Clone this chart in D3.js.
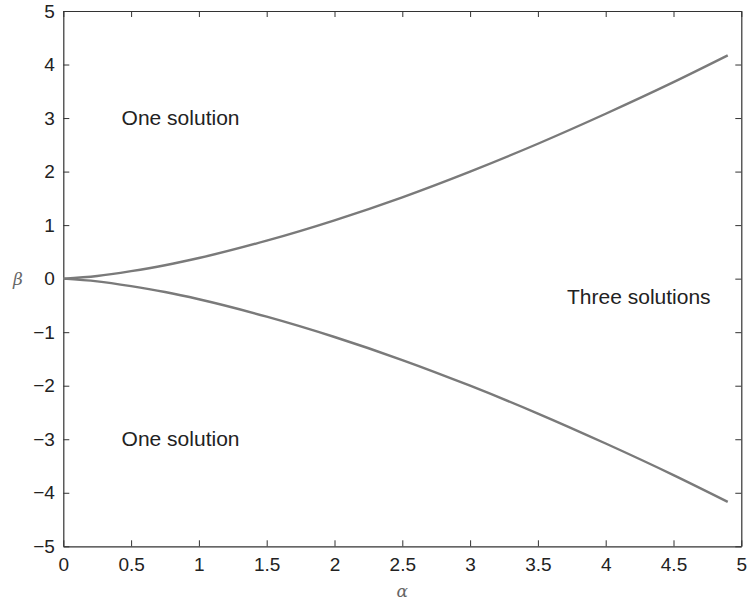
<!DOCTYPE html>
<html>
<head>
<meta charset="utf-8">
<script src="https://cdn.jsdelivr.net/npm/d3@7"></script>
<style>
  body { margin: 0; background: #fff; }
  text { font-family: "Liberation Sans", Arial, sans-serif; }
</style>
</head>
<body>
<svg id="chart" width="750" height="601"></svg>
<script>
// values (upper branch; lower branch is its mirror)
const alphaVals = [0, 0.25, 0.5, 0.75, 1, 1.5, 2, 2.5, 3, 3.5, 4, 4.5, 4.9]
const betaUpper = [0, 0.05, 0.14, 0.25, 0.385, 0.71, 1.09, 1.52, 2.0, 2.52, 3.08, 3.67, 4.17]
const betaLower = [0, -0.05, -0.14, -0.25, -0.385, -0.71, -1.09, -1.52, -2.0, -2.52, -3.08, -3.67, -4.17]

const xTicks = [0, 0.5, 1, 1.5, 2, 2.5, 3, 3.5, 4, 4.5, 5]
const yTicks = [-5, -4, -3, -2, -1, 0, 1, 2, 3, 4, 5]

const regionLabels = [
  { text: "One solution", a: 0.43, b: 2.87 },
  { text: "One solution", a: 0.43, b: -3.12 },
  { text: "Three solutions", a: 3.715, b: -0.48 }
]

const margin = { left: 63.3, top: 11, right: 8.7, bottom: 54.7 }
const width = 750
const height = 601

const svg = d3.select("#chart")

const x = d3.scaleLinear().domain([0, 5]).range([margin.left, width - margin.right])
const y = d3.scaleLinear().domain([-5, 5]).range([height - margin.bottom, margin.top])

const fmt = d => (d < 0 ? "\u2212" + Math.abs(d) : String(d))
const axisColor = "#333"

// bottom axis
const gx = svg.append("g")
  .attr("transform", `translate(0,${y(-5)})`)
  .call(d3.axisBottom(x).tickValues(xTicks).tickFormat(fmt).tickSizeInner(-6).tickSizeOuter(0).tickPadding(11.5))

// top axis (ticks only)
const gxt = svg.append("g")
  .attr("transform", `translate(0,${y(5)})`)
  .call(d3.axisTop(x).tickValues(xTicks).tickFormat("").tickSizeInner(-6).tickSizeOuter(0))

// left axis
const gy = svg.append("g")
  .attr("transform", `translate(${x(0)},0)`)
  .call(d3.axisLeft(y).tickValues(yTicks).tickFormat(fmt).tickSizeInner(-6).tickSizeOuter(0).tickPadding(8.5))

// right axis (ticks only)
const gyr = svg.append("g")
  .attr("transform", `translate(${x(5)},0)`)
  .call(d3.axisRight(y).tickValues(yTicks).tickFormat("").tickSizeInner(-6).tickSizeOuter(0))

for (const g of [gx, gxt, gy, gyr]) {
  g.select(".domain").attr("stroke", axisColor).attr("stroke-width", 1.2)
  g.selectAll(".tick line").attr("stroke", axisColor).attr("stroke-width", 1)
  g.selectAll(".tick text")
    .attr("fill", "#222")
    .style("font-size", "19px")
    .style("font-family", "'Liberation Sans', Arial, sans-serif")
}

// curves
const line = d3.line()
  .x(d => x(d[0]))
  .y(d => y(d[1]))
  .curve(d3.curveMonotoneX)

const plot = svg.append("g")
for (const branch of [betaUpper, betaLower]) {
  plot.append("path")
    .datum(alphaVals.map((a, i) => [a, branch[i]]))
    .attr("d", line)
    .attr("fill", "none")
    .attr("stroke", "#7a7a7a")
    .attr("stroke-width", 2.4)
}

// region labels
svg.selectAll("text.region")
  .data(regionLabels)
  .join("text")
  .attr("class", "region")
  .attr("x", d => x(d.a))
  .attr("y", d => y(d.b))
  .attr("fill", "#222")
  .style("font-size", "21px")
  .text(d => d.text)

// axis labels
svg.append("text")
  .attr("x", x(2.5))
  .attr("y", 597)
  .attr("text-anchor", "middle")
  .attr("fill", "#666")
  .style("font-family", "'DejaVu Serif', 'Liberation Serif', serif")
  .style("font-style", "italic")
  .style("font-size", "17px")
  .text("\u03b1")

svg.append("text")
  .attr("x", 18)
  .attr("y", y(0) + 6)
  .attr("text-anchor", "middle")
  .attr("fill", "#666")
  .style("font-family", "'DejaVu Serif', 'Liberation Serif', serif")
  .style("font-style", "italic")
  .style("font-size", "17px")
  .text("\u03b2")
</script>
</body>
</html>
